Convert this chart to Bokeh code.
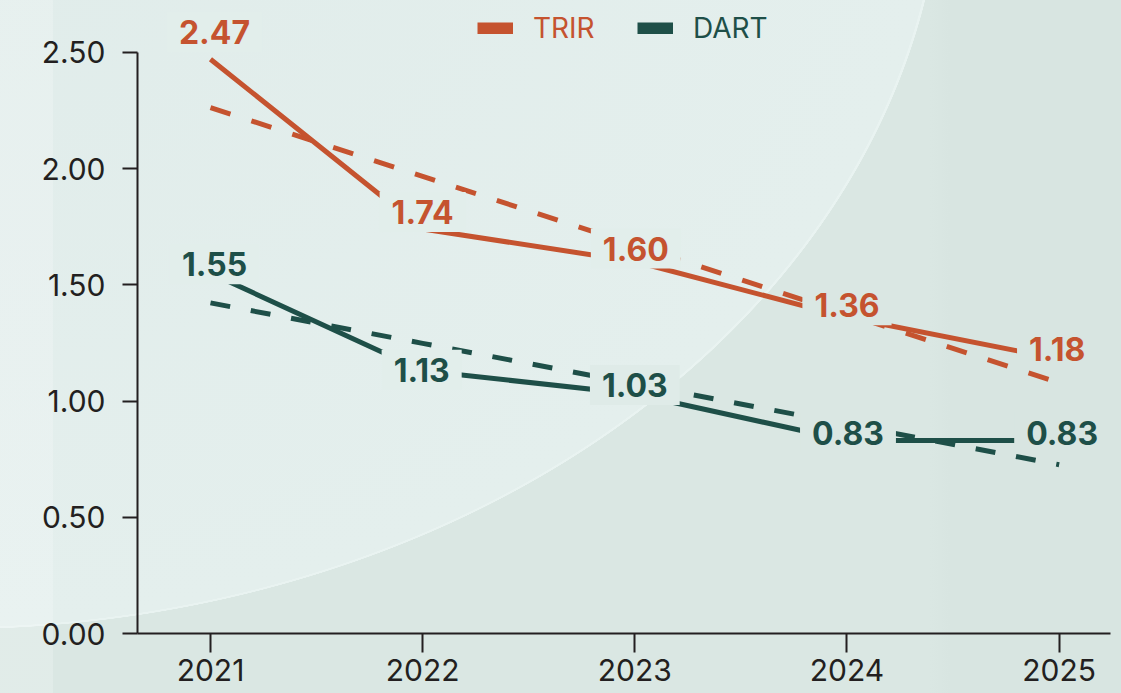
import numpy as np
from bokeh.plotting import figure
from bokeh.models import (ColumnDataSource, FixedTicker, NumeralTickFormatter, Range1d,
                          Legend, LegendItem, GlobalInlineStyleSheet)
from bokeh.core.properties import value
from bokeh.embed import file_html
from bokeh.resources import INLINE

# ---------------- data ----------------
years = [2021, 2022, 2023, 2024, 2025]
trir = [2.47, 1.74, 1.60, 1.36, 1.18]
dart = [1.55, 1.13, 1.03, 0.83, 0.83]
y_ticks = [0.0, 0.5, 1.0, 1.5, 2.0, 2.5]
series_names = ["TRIR", "DART"]

# ---------------- styles ----------------
ORANGE = "#c5532f"
TEAL = "#1e4f48"
INK = "#231f20"
BG_IN = "#e2eeeb"
BG_MID = "#dfebe8"
BG_OUT = "#dae7e3"
BG_RIGHT = "#d8e5e1"
FONT = "Inter"

# label placement tweaks (screen px)
trir_dx = [4, 0, 1, 0, -2]
trir_dy = [-27, -17, -13, -12, -10]
dart_dx = [4, -1, 0, 1, 3]
dart_dy = [-9, -1, -9, -8, -8]
trir_bg = [BG_IN, BG_IN, BG_IN, BG_OUT, BG_RIGHT]
dart_bg = [BG_IN, BG_IN, BG_MID, BG_OUT, BG_RIGHT]

css = """
html, body { margin: 0; padding: 0; }
html {
  background:
    linear-gradient(to right, rgba(255,255,255,0.2) 0px, rgba(255,255,255,0.2) 53px, rgba(255,255,255,0) 53px),
    radial-gradient(ellipse 996px 781px at -50px -150px,
        #e0ecea 0px, #e4efed 991px, #e9f3f1 991.5px, #e9f3f1 993.5px, rgba(218,231,227,0) 994px),
    linear-gradient(to right, #dae7e3 0px, #dae7e3 930px, #d8e5e1 950px, #d8e5e1 100%);
  min-height: 100%;
}
"""

# trend lines (least squares fit of each series)
trir_fit = np.polyval(np.polyfit(years, trir, 1), years)
dart_fit = np.polyval(np.polyfit(years, dart, 1), years)

src = ColumnDataSource(dict(year=years, trir=trir, dart=dart,
                            trir_fit=trir_fit, dart_fit=dart_fit))

p = figure(width=1121, height=693, output_backend="svg", toolbar_location=None,
           x_range=Range1d(2020.656, 2025.242), y_range=Range1d(0, 2.7226),
           min_border_left=137, min_border_right=11, min_border_top=0, min_border_bottom=60,
           background_fill_color=None, border_fill_color=None, outline_line_color=None)
p.stylesheets = [GlobalInlineStyleSheet(css=css)]
p.xgrid.visible = False
p.ygrid.visible = False

# axes
p.yaxis.ticker = FixedTicker(ticks=y_ticks)
p.yaxis.formatter = NumeralTickFormatter(format="0.00")
p.yaxis.bounds = (0, 2.5)
p.xaxis.ticker = FixedTicker(ticks=years)
p.xaxis.formatter = NumeralTickFormatter(format="0")
for ax in (p.xaxis[0], p.yaxis[0]):
    ax.axis_line_color = INK
    ax.axis_line_width = 2
    ax.major_tick_line_color = INK
    ax.major_tick_line_width = 2
    ax.major_tick_in = 0
    ax.minor_tick_line_color = None
    ax.major_label_text_font = FONT
    ax.major_label_text_font_size = "30px"
    ax.major_label_text_color = INK
p.yaxis.major_tick_out = 15
p.yaxis.major_label_standoff = 17
p.xaxis.major_tick_out = 19
p.xaxis.major_label_standoff = 6

# lines
p.line("year", "trir_fit", source=src, line_color=ORANGE, line_width=5, line_dash="21 22")
p.line("year", "dart_fit", source=src, line_color=TEAL, line_width=5, line_dash="20 21")
p.line("year", "trir", source=src, line_color=ORANGE, line_width=5)
p.line("year", "dart", source=src, line_color=TEAL, line_width=5)

# value labels (background boxes hide the lines behind them)
lab = ColumnDataSource(dict(
    x=years + years,
    y=trir + dart,
    text=[f"{v:.2f}" for v in trir + dart],
    color=[ORANGE] * len(trir) + [TEAL] * len(dart),
    bg=trir_bg + dart_bg,
    dx=trir_dx + dart_dx,
    dy=trir_dy + dart_dy,
))
p.text(x="x", y="y", text="text", source=lab, text_color="color",
       text_font=value(FONT), text_font_style="bold", text_font_size="32px",
       text_align="center", text_baseline="middle",
       x_offset="dx", y_offset="dy",
       background_fill_color="bg", padding=(12, 12, 8, 8))

# legend (single off-canvas NaN point so the swatch is drawn)
leg_r = [p.line(x=[np.nan], y=[np.nan], line_color=c, line_width=12) for c in (ORANGE, TEAL)]
for name, r, c, xloc in zip(series_names, leg_r, (ORANGE, TEAL), (340, 500)):
    lg = Legend(items=[LegendItem(label=name, renderers=[r])], location=(xloc, 588),
                glyph_width=36, glyph_height=12, label_standoff=20, padding=0, margin=0,
                border_line_color=None, background_fill_alpha=0,
                label_text_font=FONT, label_text_font_size="28px", label_text_color=c)
    p.add_layout(lg)

open("out.html", "w").write(file_html(p, INLINE))
